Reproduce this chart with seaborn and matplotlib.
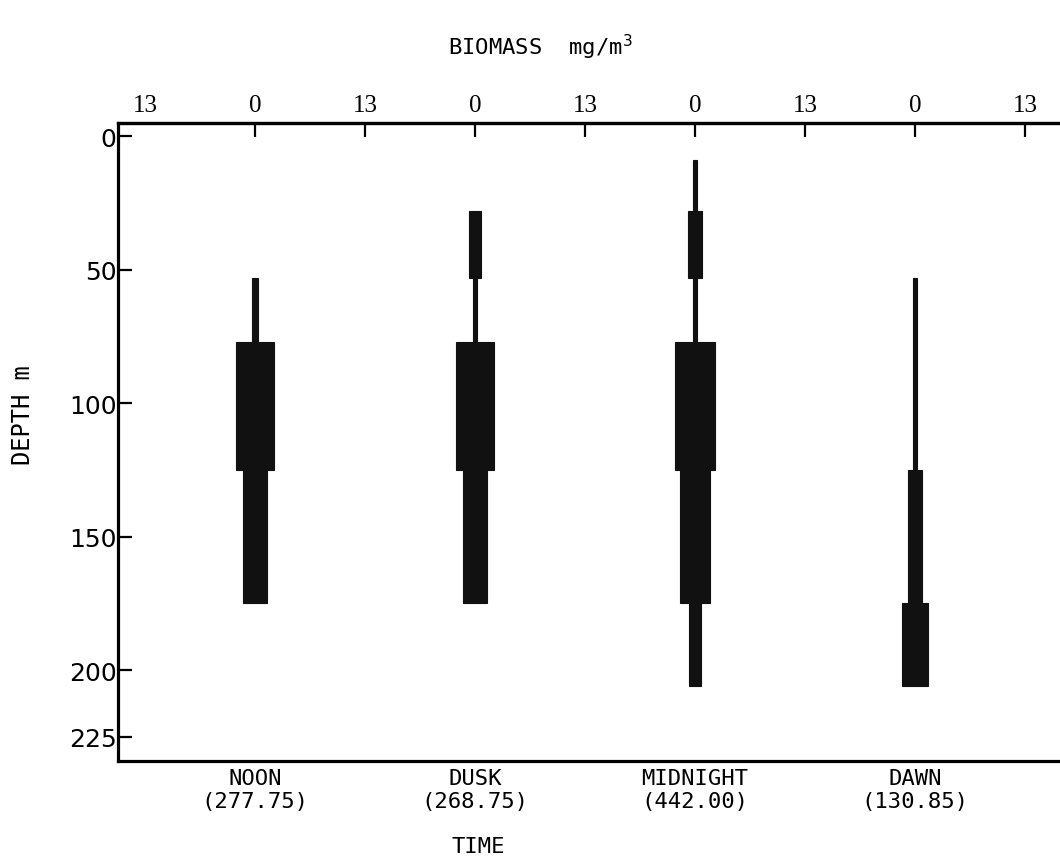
import matplotlib
matplotlib.use("Agg")
import matplotlib.pyplot as plt
import numpy as np
import pandas as pd
import seaborn as sns
import seaborn.objects as so

# Sampling strata (depth, m)
strata_top = [9, 28, 53, 77, 125, 175]
strata_bottom = [28, 53, 77, 125, 175, 206]

# Sampling times and total biomass for each
periods = ["NOON", "DUSK", "MIDNIGHT", "DAWN"]
period_totals = ["277.75", "268.75", "442.00", "130.85"]

# Biomass (mg/m3) in each stratum, drawn as a half-width about each time's centre line
noon = [0.0, 0.0, 0.38, 2.26, 1.42, 0.0]
dusk = [0.0, 0.67, 0.28, 2.26, 1.37, 0.0]
midnight = [0.24, 0.83, 0.28, 2.37, 1.75, 0.73]
dawn = [0.0, 0.0, 0.25, 0.25, 0.79, 1.54]

scale_max = 13
depth_ticks = [0, 50, 100, 150, 200, 225]

sns.set_theme(style="white", rc={
    "axes.edgecolor": "black",
    "text.color": "black",
    "xtick.color": "black",
    "ytick.color": "black",
    "axes.labelcolor": "black",
})

# Build a stepped outline (kite) for every sampling time
rows = []
for k, (name, vals) in enumerate(zip(periods, [noon, dusk, midnight, dawn])):
    centre = k * 2 * scale_max
    for top, bot, v in zip(strata_top, strata_bottom, vals):
        if v <= 0:
            continue
        for d in (top, bot):
            rows.append({"period": name, "depth": d,
                         "lo": centre - v, "hi": centre + v})
kites = pd.DataFrame(rows)

fig = plt.figure(figsize=(10.6, 8.62), dpi=100)
ax = fig.add_axes([0.1113, 0.1160, 0.8887, 0.7401])

(
    so.Plot(kites, y="depth", xmin="lo", xmax="hi", group="period")
    .add(so.Band(color="#111111", alpha=1, edgewidth=0.8), orient="y")
    .theme(sns.axes_style("white"))
    .on(ax)
    .plot()
)

ax.set_xlim(-16.2, 95.15)
ax.set_ylim(234, -4.9)
ax.grid(False)
ax.set_facecolor("white")

for side in ["left", "top", "bottom"]:
    ax.spines[side].set_visible(True)
    ax.spines[side].set_color("black")
    ax.spines[side].set_linewidth(2.3)
ax.spines["right"].set_visible(False)

# Bottom: sampling time with total biomass
centres = [k * 2 * scale_max for k in range(len(periods))]
ax.set_xticks(centres, labels=[f"{p}\n({t})" for p, t in zip(periods, period_totals)],
              fontfamily="DejaVu Sans Mono", fontsize=16)
ax.tick_params(axis="x", bottom=True, length=0, pad=5)
ax.set_xlabel("TIME", fontfamily="DejaVu Sans Mono", fontsize=16)
ax.xaxis.set_label_coords(0.382, -0.118)

# Left: depth
ax.set_yticks(depth_ticks, labels=[str(d) for d in depth_ticks], fontsize=18)
ax.tick_params(axis="y", left=True, direction="in", length=10, width=1.6, pad=1)
ax.set_ylabel("DEPTH m", fontfamily="DejaVu Sans Mono", fontsize=17)
ax.yaxis.set_label_coords(-0.088, 0.544)

# Top: biomass scale repeated about each centre line
top_ticks = [-scale_max + k * scale_max for k in range(9)]
top_labels = [str(scale_max) if i % 2 == 0 else "0" for i in range(9)]
sec = ax.secondary_xaxis("top")
sec.set_xticks(top_ticks, labels=top_labels, fontfamily="Liberation Serif", fontsize=18)
sec.tick_params(direction="in", length=10, width=1.6, pad=5, color="black")
sec.spines["top"].set_linewidth(2.3)
sec.spines["top"].set_color("black")
first = sec.xaxis.get_major_ticks()[0]
first.tick1line.set_visible(False)
first.tick2line.set_visible(False)

fig.text(0.51, 0.945, "BIOMASS  mg/m$^3$", ha="center", va="center",
         fontfamily="DejaVu Sans Mono", fontsize=16)

fig.savefig("out.png", dpi=100, facecolor="white")
